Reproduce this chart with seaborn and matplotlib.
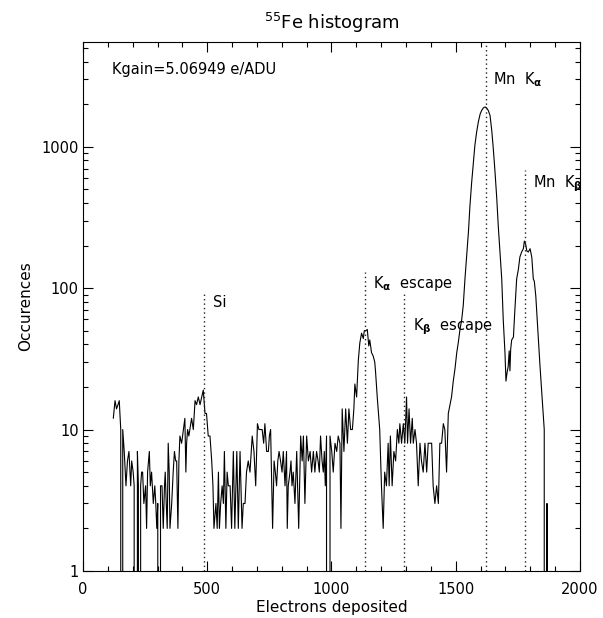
import matplotlib
matplotlib.use("Agg")
import matplotlib.pyplot as plt
import seaborn as sns
import pandas as pd
from matplotlib.ticker import MultipleLocator, LogLocator, NullFormatter

# ---------------- data ----------------
electrons = [
    122, 129, 135, 141, 146, 152, 156, 160, 166, 173, 179, 185, 192, 196, 202, 206,
    212, 219, 223, 227, 232, 236, 240, 245, 252, 256, 260, 267, 271, 276, 283, 289,
    293, 297, 301, 307, 312, 318, 323, 328, 331, 335, 339, 343, 347, 350, 357, 363,
    368, 373, 377, 382, 386, 390, 397, 404, 410, 414, 417, 421, 426, 430, 437, 444,
    451, 457, 464, 471, 478, 484, 491, 497, 500, 504, 511, 518, 523, 527, 535, 540,
    545, 549, 554, 560, 565, 569, 575, 580, 585, 592, 598, 605, 611, 619, 625, 632,
    640, 645, 652, 658, 665, 672, 681, 688, 695, 702, 708, 715, 721, 727, 732, 739,
    746, 750, 755, 763, 769, 774, 779, 784, 789, 795, 801, 806, 813, 819, 822, 826,
    833, 837, 841, 846, 853, 860, 868, 876, 882, 887, 893, 900, 907, 914, 920, 927,
    933, 940, 946, 951, 956, 962, 967, 971, 975, 980, 987, 994, 1001, 1007, 1014, 1021,
    1027, 1034, 1038, 1043, 1050, 1057, 1064, 1070, 1077, 1084, 1090, 1094, 1101, 1108, 1114, 1121,
    1128, 1132, 1138, 1144, 1150, 1154, 1161, 1168, 1174, 1177, 1184, 1194, 1201, 1208, 1214, 1221,
    1228, 1232, 1237, 1244, 1251, 1258, 1265, 1271, 1275, 1282, 1289, 1295, 1302, 1306, 1312, 1318,
    1325, 1329, 1336, 1342, 1349, 1356, 1362, 1369, 1376, 1383, 1389, 1396, 1403, 1409, 1416, 1423,
    1430, 1436, 1443, 1450, 1456, 1463, 1470, 1477, 1483, 1490, 1497, 1504, 1510, 1517, 1524, 1530,
    1537, 1544, 1551, 1557, 1564, 1571, 1577, 1584, 1591, 1598, 1604, 1611, 1618, 1624, 1631, 1638,
    1645, 1651, 1658, 1665, 1671, 1678, 1685, 1691, 1698, 1702, 1706, 1711, 1715, 1718, 1721, 1725,
    1732, 1738, 1745, 1752, 1758, 1765, 1772, 1776, 1781, 1786, 1792, 1799, 1806, 1812, 1816, 1822,
    1830, 1839, 1848, 1856, 1862, 1867, 1872,
]
counts = [
    12, 16, 14, 15, 16, 10, 0, 10, 7, 4, 6, 7, 4, 6, 5, 4,
    0, 7, 4, 0, 4, 5, 5, 3, 4, 2, 5, 7, 4, 5, 3, 4,
    3, 2, 3, 0, 4, 4, 2, 4, 5, 3, 2, 8, 5, 2, 3, 5,
    7, 6, 6, 2, 6, 9, 8, 10, 12, 5, 8, 10, 9, 10, 12, 10,
    16, 15, 17, 15, 17, 19, 13, 13, 11, 9, 9, 6, 4, 2, 3, 2,
    5, 2, 3, 4, 3, 7, 2, 5, 4, 4, 2, 7, 2, 7, 2, 7,
    2, 3, 3, 5, 6, 5, 9, 7, 4, 11, 10, 10, 10, 8, 11, 7,
    7, 9, 10, 2, 6, 5, 4, 6, 7, 6, 5, 7, 4, 7, 2, 4,
    5, 6, 4, 5, 3, 7, 2, 9, 6, 9, 3, 9, 6, 7, 5, 7,
    5, 7, 6, 5, 9, 6, 5, 7, 4, 9, 0, 9, 7, 5, 8, 7,
    9, 8, 2, 14, 7, 14, 8, 14, 10, 10, 14, 21, 17, 31, 41, 48,
    44, 50, 50, 51, 39, 43, 35, 33, 30, 26, 17, 10, 4, 2, 5, 4,
    8, 4, 9, 4, 7, 6, 10, 8, 11, 8, 11, 8, 17, 8, 14, 8,
    12, 8, 10, 8, 4, 8, 6, 5, 8, 5, 8, 8, 8, 4, 3, 4,
    3, 8, 8, 11, 10, 5, 13, 15, 17, 22, 27, 35, 41, 51, 60, 75,
    116, 169, 250, 380, 560, 780, 1025, 1270, 1500, 1700, 1800, 1880, 1910, 1880, 1800, 1660,
    1290, 970, 660, 430, 275, 180, 116, 60, 35, 22, 25, 28, 36, 26, 37, 43,
    45, 71, 116, 136, 166, 180, 190, 215, 205, 183, 180, 190, 165, 116, 112, 88,
    51, 28, 16, 10, 0, 3, 0,
]

line_names = ["Si", r"K$_{\mathbf{\alpha}}$  escape", r"K$_{\mathbf{\beta}}$  escape",
              r"Mn  K$_{\mathbf{\alpha}}$", r"Mn  K$_{\mathbf{\beta}}$"]
line_energy = [487, 1135, 1292, 1622, 1779]
line_top = [92, 130, 93, 5500, 680]
label_x = [522, 1167, 1326, 1651, 1811]
label_y = [79, 108, 53, 3000, 550]

x_ticks = [0, 500, 1000, 1500, 2000]
y_ticks = [1, 10, 100, 1000]
x_range = (0, 2000)
y_range = (1, 5500)
kgain_text = "Kgain=5.06949 e/ADU"
title_text = r"$^{55}$Fe histogram"
x_label = "Electrons deposited"
y_label = "Occurences"

# ---------------- plot ----------------
sns.set_style("ticks")
plt.rcParams["font.family"] = ["DejaVu Sans"]
plt.rcParams["mathtext.fontset"] = "dejavusans"

df = pd.DataFrame({"electrons": electrons, "counts": counts})

fig = plt.figure(figsize=(6.03, 6.18), dpi=100)
ax = fig.add_axes([0.1376, 0.0761, 0.8243, 0.856])

sns.lineplot(data=df, x="electrons", y="counts", ax=ax, color="black",
             linewidth=0.8, estimator=None, sort=False)
ax.set_yscale("log", nonpositive="clip")
ax.set_xlim(*x_range)
ax.set_ylim(*y_range)

for e, top in zip(line_energy, line_top):
    ax.plot([e, e], [y_range[0], top], color="#222222", linewidth=1.0,
            linestyle=(0, (1, 2.2)))
for name, lx, ly in zip(line_names, label_x, label_y):
    ax.text(lx, ly, name, ha="left", va="center", fontsize=10.5, color="black")

ax.text(0.058, 0.947, kgain_text, transform=ax.transAxes, ha="left", va="center",
        fontsize=10.5, color="black")

ax.set_xticks(x_ticks, labels=[str(v) for v in x_ticks])
ax.xaxis.set_minor_locator(MultipleLocator(100))
ax.set_yticks(y_ticks, labels=[str(v) for v in y_ticks])
ax.yaxis.set_minor_locator(LogLocator(base=10, subs=range(2, 10), numticks=20))
ax.yaxis.set_minor_formatter(NullFormatter())

ax.tick_params(which="both", direction="in", top=True, right=True,
               width=0.8, color="black", labelsize=10.5, labelcolor="black")
ax.tick_params(which="major", length=7)
ax.tick_params(which="minor", length=3.5)
ax.tick_params(axis="x", which="major", pad=8)
ax.tick_params(axis="y", which="major", pad=3)

for sp in ax.spines.values():
    sp.set_visible(True)
    sp.set_linewidth(0.8)
    sp.set_color("black")

ax.set_xlabel(x_label, fontsize=11, color="black", labelpad=2)
ax.set_ylabel(y_label, fontsize=11, color="black", labelpad=6)
ax.set_title(title_text, fontsize=13, color="black", pad=9)

fig.savefig("out.png", dpi=100, facecolor="white")
